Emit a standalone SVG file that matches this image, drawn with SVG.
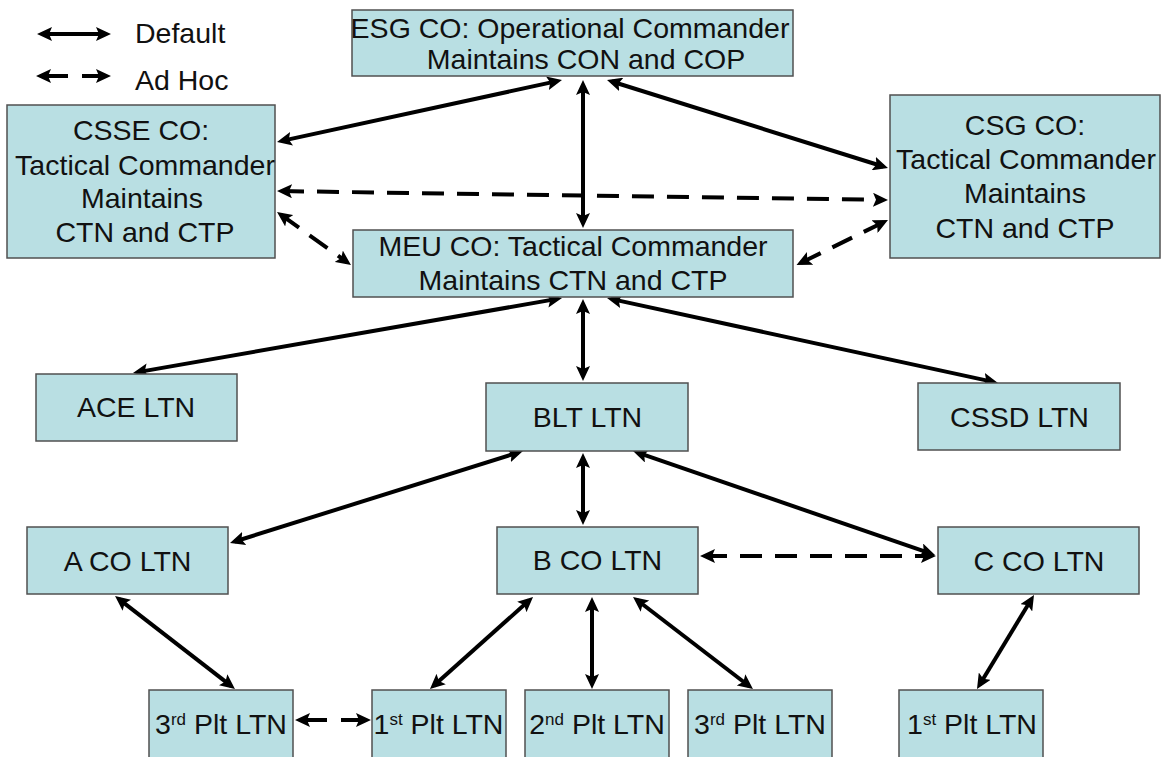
<svg xmlns="http://www.w3.org/2000/svg" width="1165" height="757" viewBox="0 0 1165 757">
<style>
.box{fill:#b9dfe3;stroke:#505050;stroke-width:1.5}
text{font-family:"Liberation Sans",Arial,sans-serif;font-size:28.5px;fill:#111}
.c{text-anchor:middle}
.ln{stroke:#000;stroke-width:4;fill:none;marker-start:url(#ah);marker-end:url(#ah)}
.d{stroke-dasharray:22 13}
.sup{font-size:17px}
</style>
<defs>
<marker id="ah" viewBox="0 0 15 14" refX="10" refY="7" markerWidth="15" markerHeight="14" markerUnits="userSpaceOnUse" orient="auto-start-reverse">
<path d="M0,0 L15,7 L0,14 L3,7 Z" fill="#000"/>
</marker>
</defs>
<rect width="1165" height="757" fill="#fff"/>
<g id="legend">
<line class="ln" x1="42" y1="34" x2="106" y2="34"/>
<line class="ln" x1="41" y1="76" x2="106" y2="76" stroke-dasharray="27 14"/>
<text x="135" y="43">Default</text>
<text x="135" y="90">Ad Hoc</text>
</g>
<g id="connectors">
<line class="ln" x1="557.1" y1="81.1" x2="281.9" y2="140.9"/>
<line class="ln" x1="583" y1="85" x2="583" y2="223"/>
<line class="ln" x1="611.8" y1="81.5" x2="883.2" y2="166.5"/>
<line class="ln d" x1="282" y1="191.1" x2="883" y2="199.9"/>
<line class="ln d" x1="281.1" y1="214.9" x2="346.9" y2="262.1"/>
<line class="ln d" x1="883.5" y1="222.2" x2="801" y2="262.8"/>
<line class="ln" x1="557.1" y1="298.9" x2="137.9" y2="372.1"/>
<line class="ln" x1="583" y1="304" x2="583" y2="376"/>
<line class="ln" x1="611.9" y1="299.1" x2="993.1" y2="381.9"/>
<line class="ln" x1="518.2" y1="452.5" x2="234.8" y2="541.5"/>
<line class="ln" x1="583" y1="458" x2="583" y2="520"/>
<line class="ln" x1="637.7" y1="452.6" x2="930.3" y2="553.4"/>
<line class="ln d" x1="705" y1="556" x2="931" y2="556"/>
<line class="ln" x1="119" y1="599.1" x2="231" y2="685.9"/>
<line class="ln" x1="300" y1="720" x2="366" y2="720" stroke-dasharray="27 14"/>
<line class="ln" x1="529.3" y1="600.3" x2="433.7" y2="685.7"/>
<line class="ln" x1="592" y1="602" x2="592" y2="684"/>
<line class="ln" x1="637" y1="600" x2="749" y2="686"/>
<line class="ln" x1="1031.4" y1="599.3" x2="979.6" y2="684.7"/>
</g>
<g id="esg"><rect class="box" x="352" y="10" width="441" height="66"/>
<text class="c" x="570" y="38">ESG CO: Operational Commander</text>
<text class="c" x="586" y="69">Maintains CON and COP</text></g>
<g id="csse"><rect class="box" x="7" y="105" width="268" height="153"/>
<text class="c" x="141" y="140">CSSE CO:</text>
<text class="c" x="145" y="175">Tactical Commander</text>
<text class="c" x="142" y="208">Maintains</text>
<text class="c" x="145" y="242">CTN and CTP</text></g>
<g id="csg"><rect class="box" x="890" y="95" width="270" height="163"/>
<text class="c" x="1025" y="135">CSG CO:</text>
<text class="c" x="1026" y="169">Tactical Commander</text>
<text class="c" x="1025" y="203">Maintains</text>
<text class="c" x="1025" y="238">CTN and CTP</text></g>
<g id="meu"><rect class="box" x="353" y="230" width="440" height="67"/>
<text class="c" x="573" y="256">MEU CO: Tactical Commander</text>
<text class="c" x="573" y="290">Maintains CTN and CTP</text></g>
<g id="ace"><rect class="box" x="36" y="374" width="201" height="67"/>
<text class="c" x="136" y="417">ACE LTN</text></g>
<g id="blt"><rect class="box" x="486" y="383" width="202" height="68"/>
<text class="c" x="587.5" y="427">BLT LTN</text></g>
<g id="cssd"><rect class="box" x="918" y="383" width="202" height="67"/>
<text class="c" x="1019.5" y="427">CSSD LTN</text></g>
<g id="aco"><rect class="box" x="27" y="527" width="201" height="67"/>
<text class="c" x="127.5" y="571">A CO LTN</text></g>
<g id="bco"><rect class="box" x="497" y="527" width="201" height="67"/>
<text class="c" x="597.5" y="570">B CO LTN</text></g>
<g id="cco"><rect class="box" x="938" y="527" width="201" height="67"/>
<text class="c" x="1039" y="571">C CO LTN</text></g>
<g id="plt3a"><rect class="box" x="149" y="690" width="144" height="80"/>
<text class="c" x="221" y="734">3<tspan class="sup" dy="-9">rd</tspan><tspan dy="9"> Plt LTN</tspan></text></g>
<g id="plt1b"><rect class="box" x="372" y="690" width="134" height="80"/>
<text class="c" x="438.5" y="734">1<tspan class="sup" dy="-9">st</tspan><tspan dy="9"> Plt LTN</tspan></text></g>
<g id="plt2b"><rect class="box" x="525" y="690" width="144" height="80"/>
<text class="c" x="597" y="734">2<tspan class="sup" dy="-9">nd</tspan><tspan dy="9"> Plt LTN</tspan></text></g>
<g id="plt3b"><rect class="box" x="688" y="690" width="144" height="80"/>
<text class="c" x="760" y="734">3<tspan class="sup" dy="-9">rd</tspan><tspan dy="9"> Plt LTN</tspan></text></g>
<g id="plt1c"><rect class="box" x="899" y="690" width="144" height="80"/>
<text class="c" x="972" y="734">1<tspan class="sup" dy="-9">st</tspan><tspan dy="9"> Plt LTN</tspan></text></g>
</svg>
